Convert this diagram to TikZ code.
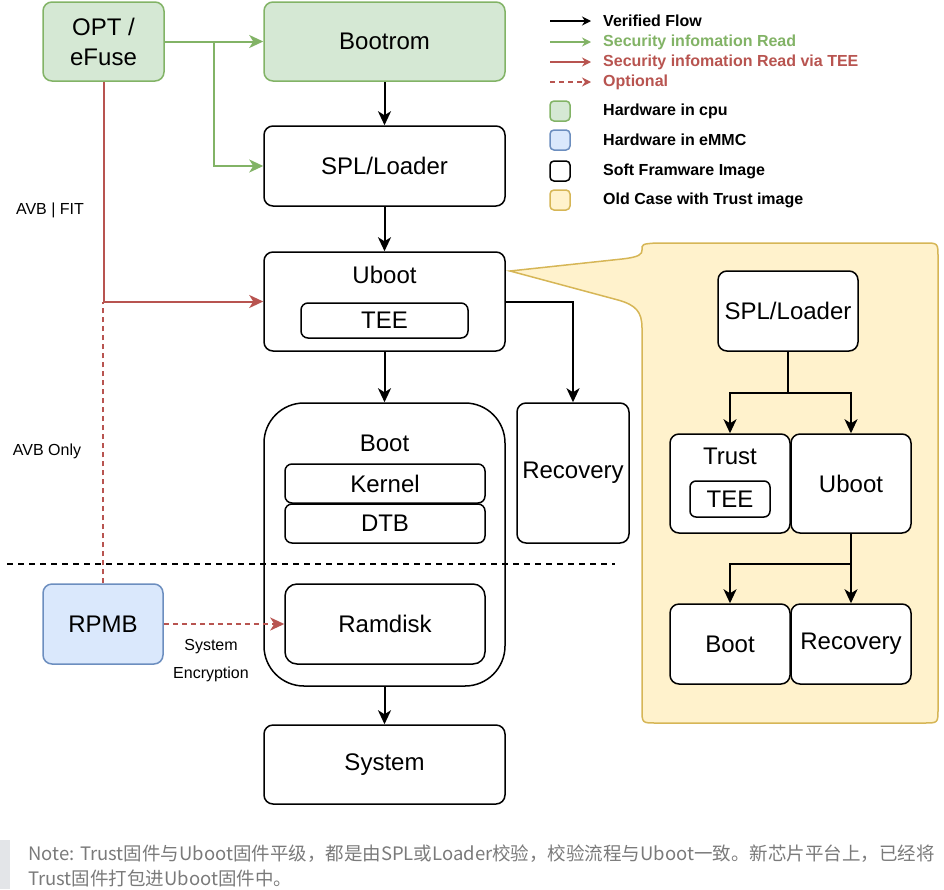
\documentclass[tikz,border=0pt]{standalone}
\usepackage{fontspec}
\setmainfont{Liberation Sans}
\newfontfamily\notefont{Noto Sans CJK SC}
\usetikzlibrary{arrows.meta}
\usetikzlibrary{calc,positioning}
\usepackage{xcolor}

\definecolor{cpugreen}{HTML}{D5E8D4}
\definecolor{cpuedge}{HTML}{82B366}
\definecolor{emmcblue}{HTML}{DAE8FC}
\definecolor{emmcedge}{HTML}{6C8EBF}
\definecolor{teered}{HTML}{B85450}
\definecolor{oldyellow}{HTML}{FFF2CC}
\definecolor{oldedge}{HTML}{D6B656}
\definecolor{notegray}{HTML}{7A7A7A}
\definecolor{notebar}{HTML}{E3E5E8}

\tikzset{
  box/.style={draw=black, line width=1.5pt, rounded corners=9pt, fill=white, align=center, inner sep=0pt, font=\fontsize{24}{30}\selectfont},
  hwcpu/.style={box, draw=cpuedge, fill=cpugreen},
  hwemmc/.style={box, draw=emmcedge, fill=emmcblue},
  boxtitle/.style={inner sep=0pt, font=\fontsize{24}{30}\selectfont},
  vflow/.style={draw=black, line width=2pt, -{Stealth[length=14pt,width=13pt,inset=4pt]}},
  gflow/.style={vflow, draw=cpuedge},
  rflow/.style={vflow, draw=teered},
  oflow/.style={vflow, draw=teered, dash pattern=on 5pt off 4pt},
  legarrow/.style={-{Stealth[length=9pt,width=9pt,inset=3pt]}},
  legtext/.style={anchor=west, inner sep=0pt, font=\bfseries\fontsize{16}{19}\selectfont},
  sidetag/.style={inner sep=0pt, align=center, font=\fontsize{16}{28}\selectfont}
}

\begin{document}
\begin{tikzpicture}[x=1pt,y=-1pt]
\useasboundingbox (0,0) rectangle (944,889);

% callout with the old trust case
\draw[oldedge, fill=oldyellow, line width=1.5pt]
  (510,271) -- (622,259) .. controls (640,257) and (642,254) .. (642,250)
  .. controls (642,244) .. (656,243) -- (924,243) .. controls (938,243) .. (938,257)
  -- (938,709) .. controls (938,723) .. (924,723) -- (656,723) .. controls (642,723) .. (642,709)
  -- (642,328) .. controls (642,312) and (636,305) .. (618,300) -- cycle;

% main chain
\node[hwcpu, minimum width=121pt, minimum height=79pt] (otp) at (103.5,41.5) {OPT /\\eFuse};
\node[hwcpu, minimum width=241pt, minimum height=79pt] (bootrom) at (384.5,41.5) {Bootrom};
\node[box, minimum width=241pt, minimum height=80pt] (spl) at (384.5,166) {SPL/Loader};
\node[box, minimum width=241pt, minimum height=99pt] (uboot) at (384.5,301.5) {};
\node[boxtitle] (uboottitle) at (384.5,275) {Uboot};
\node[box, minimum width=167pt, minimum height=35pt, rounded corners=7pt] (tee) at (384.5,320.5) {TEE};
\node[box, rounded corners=40pt, minimum width=241pt, minimum height=283pt] (boot) at (384.5,544.5) {};
\node[boxtitle] (boottitle) at (384.5,443) {Boot};
\node[box, minimum width=200pt, minimum height=39pt, rounded corners=7pt] (kernel) at (385,483.5) {Kernel};
\node[box, minimum width=200pt, minimum height=39pt, rounded corners=7pt] (dtb) at (385,523.5) {DTB};
\node[box, minimum width=200pt, minimum height=80pt, rounded corners=12pt] (ramdisk) at (385,624) {Ramdisk};
\node[box, minimum width=112pt, minimum height=140pt] (recovery) at (573,473) {Recovery};
\node[box, minimum width=241pt, minimum height=79pt] (system) at (384.5,764.5) {System};
\node[hwemmc, minimum width=120pt, minimum height=80pt] (rpmb) at (103,624) {RPMB};

\draw[black, line width=1.5pt, dash pattern=on 6pt off 5pt] (7,564) -- (615,564);

\draw[vflow] (bootrom.south) -- (spl.north);
\draw[vflow] (spl.south) -- (uboot.north);
\draw[vflow] (uboot.south) -- (boot.north);
\draw[vflow] (uboot.east) -| (recovery.north);
\draw[vflow] (boot.south) -- (system.north);

\coordinate (gsplit) at (214,41.5);
\draw[gflow] (otp.east) -- (bootrom.west);
\draw[gflow] (gsplit) |- (spl.west);
\draw[oflow, -] (rpmb.north) -- (rpmb.north |- uboot.west);
\draw[rflow] (otp.south) |- (uboot.west);
\draw[oflow] (rpmb.east) -- (ramdisk.west);

\node[sidetag] (avbfit) at (50,210) {AVB | FIT};
\node[sidetag] (avbonly) at (47,451) {AVB Only};
\node[sidetag] (sysenc) at (211,661) {System\\Encryption};

% inside the callout
\node[box, minimum width=140pt, minimum height=80pt] (ospl) at (788,311) {SPL/Loader};
\node[box, minimum width=120pt, minimum height=99pt] (otrust) at (730,483.5) {};
\node[boxtitle] (otrusttitle) at (730,456) {Trust};
\node[box, minimum width=80pt, minimum height=36pt, rounded corners=6pt] (otee) at (730,499) {TEE};
\node[box, minimum width=120pt, minimum height=99pt] (ouboot) at (851,483.5) {Uboot};
\node[box, minimum width=120pt, minimum height=80pt] (oboot) at (730,644) {Boot};
\node[box, minimum width=120pt, minimum height=80pt] (orecovery) at (851,644) {Recovery};

\coordinate (osplit) at (788,393);
\coordinate (osplit2) at (851,564);
\draw[vflow] (ospl.south) -- (osplit) -| (otrust.north);
\draw[vflow] (osplit) -| (ouboot.north);
\draw[vflow] (ouboot.south) -- (orecovery.north);
\draw[vflow] (osplit2) -| (oboot.north);

% legend
\foreach \y/\sty/\name/\txt/\col in {21/vflow/lv/Verified Flow/black,
  42/gflow/lr/Security infomation Read/cpuedge,
  62/rflow/lt/Security infomation Read via TEE/teered,
  82/oflow/lo/Optional/teered} {
  \coordinate (\name) at (550,\y);
  \node[legtext, text=\col] (\name text) at (603,\y) {\txt};
  \draw[\sty, legarrow] (\name) -- ([xshift=-12pt]\name text.west);
}
\foreach \y/\sty/\name/\txt in {111/hwcpu/lcpu/Hardware in cpu,
  140/hwemmc/lemmc/Hardware in eMMC,
  171/box/lsoft/Soft Framware Image} {
  \node[\sty, minimum size=20pt, rounded corners=4pt] (\name) at (560,\y) {};
  \node[legtext] (\name text) at (603,\y) {\txt};
}
\node[box, draw=oldedge, fill=oldyellow, minimum size=20pt, rounded corners=4pt] (lold) at (560,200) {};
\node[legtext] (loldtext) at (603,200) {Old Case with Trust image};

% note below
\fill[notebar] (0,840) rectangle (10,889);
\node[anchor=base west, inner sep=0pt, text=notegray, font=\notefont\fontsize{18.5}{26}\selectfont] (note) at (28,860)
  {Note: Trust固件与Uboot固件平级，都是由SPL或Loader校验，校验流程与Uboot一致。新芯片平台上，已经将};
\node[anchor=base west, inner sep=0pt, text=notegray, font=\notefont\fontsize{18.5}{26}\selectfont] (note2) at (28,885)
  {Trust固件打包进Uboot固件中。};
\end{tikzpicture}
\end{document}
